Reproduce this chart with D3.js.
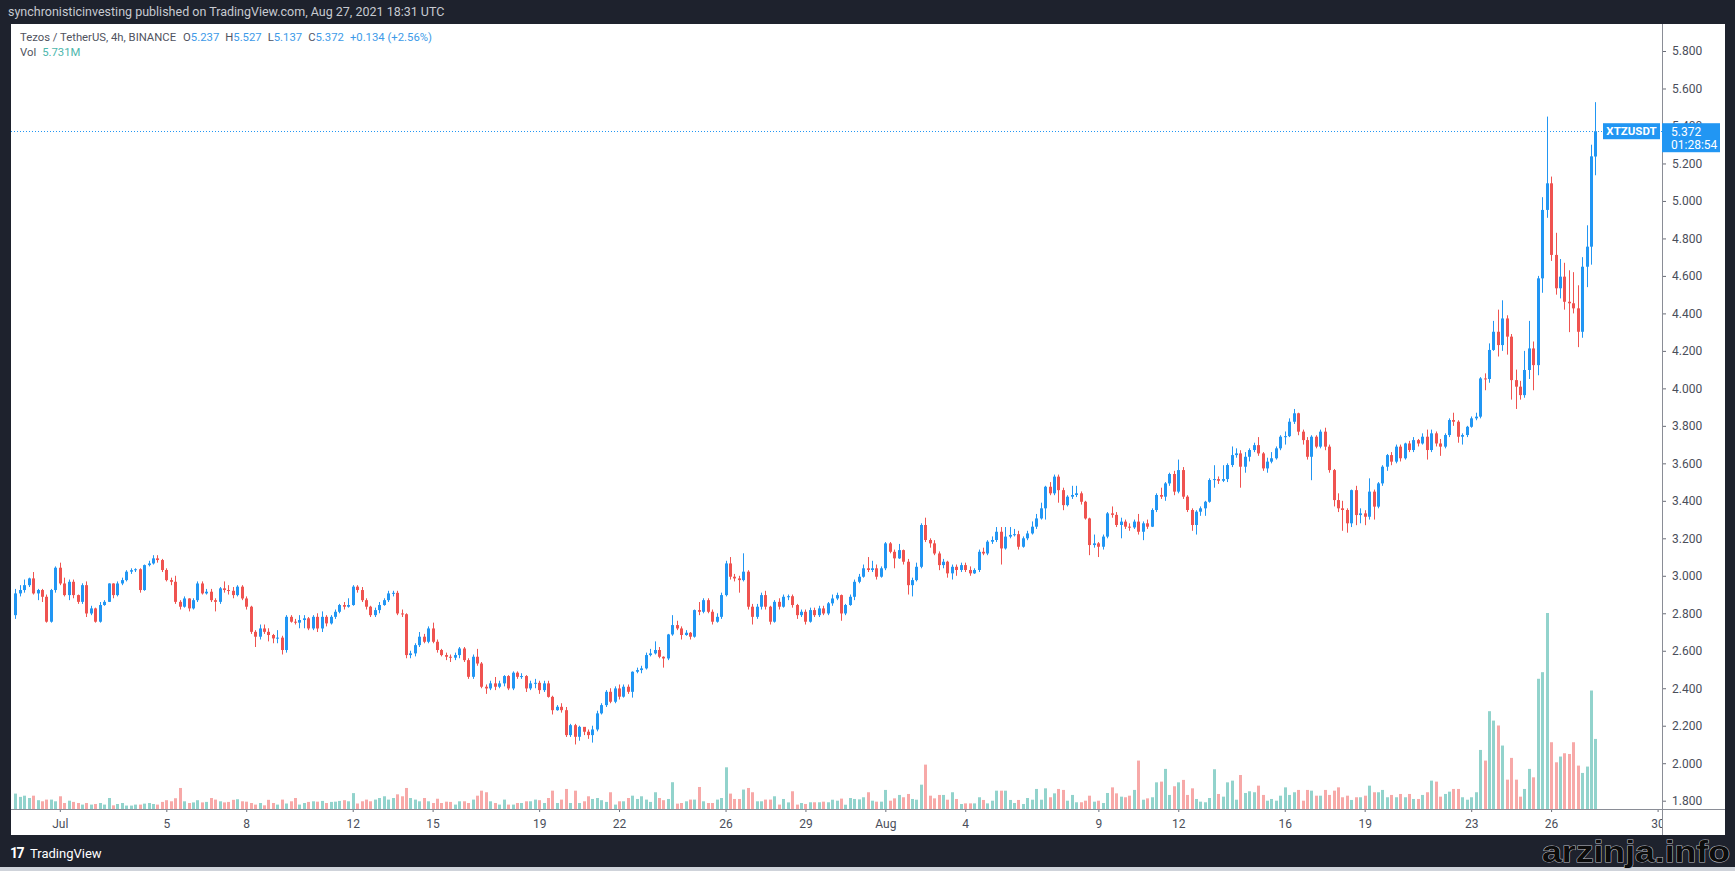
<!DOCTYPE html>
<html>
<head>
<meta charset="utf-8">
<script src="https://cdn.jsdelivr.net/npm/d3@7"></script>
<style>
  html, body { margin: 0; padding: 0; background: #1e222d; overflow: hidden; }
  svg { display: block; font-family: Roboto, "Liberation Sans", sans-serif; }
</style>
</head>
<body>
<script>
// XTZUSDT, Binance, 4h candles, Jun 29 08:00 UTC -> Aug 27 16:00 UTC
var startTime = Date.UTC(2021, 5, 29, 8)
var firstOpen = 2.790

var closes = [
  2.906,2.924,2.950,2.986,2.906,2.924,2.888,2.755,2.924,3.043,
  2.959,2.897,2.968,2.897,2.861,2.950,2.799,2.826,2.755,2.844,
  2.861,2.959,2.897,2.959,2.977,3.022,3.030,3.035,2.924,3.057,
  3.066,3.093,3.084,3.031,2.977,2.968,2.861,2.835,2.879,2.826,
  2.870,2.959,2.906,2.915,2.870,2.861,2.933,2.924,2.920,2.897,
  2.942,2.879,2.835,2.701,2.675,2.719,2.701,2.684,2.666,2.670,
  2.604,2.781,2.755,2.750,2.764,2.773,2.719,2.781,2.719,2.781,
  2.746,2.781,2.808,2.844,2.835,2.844,2.942,2.924,2.870,2.835,
  2.790,2.817,2.844,2.870,2.906,2.909,2.799,2.795,2.577,2.586,
  2.630,2.675,2.648,2.719,2.648,2.604,2.577,2.568,2.563,2.577,
  2.612,2.550,2.461,2.568,2.532,2.408,2.399,2.426,2.408,2.426,
  2.465,2.399,2.483,2.461,2.465,2.399,2.426,2.429,2.390,2.426,
  2.354,2.283,2.301,2.283,2.150,2.203,2.141,2.194,2.168,2.150,
  2.180,2.266,2.310,2.381,2.328,2.399,2.355,2.408,2.381,2.488,
  2.497,2.506,2.577,2.586,2.604,2.568,2.559,2.687,2.737,2.719,
  2.684,2.696,2.675,2.817,2.808,2.870,2.808,2.755,2.781,2.897,
  3.066,2.995,2.986,2.977,3.022,2.835,2.781,2.835,2.897,2.835,
  2.755,2.861,2.835,2.888,2.891,2.844,2.790,2.808,2.755,2.817,
  2.790,2.826,2.799,2.853,2.879,2.897,2.799,2.844,2.888,2.968,
  2.995,3.040,3.031,3.040,2.995,3.040,3.173,3.128,3.093,3.137,
  3.075,2.950,2.977,3.048,3.271,3.191,3.173,3.119,3.057,3.075,
  3.013,3.048,3.031,3.057,3.031,3.013,3.031,3.128,3.119,3.182,
  3.191,3.235,3.146,3.209,3.218,3.222,3.155,3.200,3.226,3.262,
  3.306,3.360,3.475,3.440,3.529,3.457,3.377,3.422,3.431,3.440,
  3.395,3.306,3.164,3.173,3.155,3.209,3.333,3.325,3.271,3.289,
  3.262,3.258,3.289,3.235,3.280,3.262,3.351,3.431,3.422,3.493,
  3.543,3.449,3.564,3.422,3.351,3.271,3.342,3.360,3.395,3.511,
  3.516,3.507,3.516,3.591,3.644,3.653,3.582,3.635,3.671,3.697,
  3.653,3.573,3.609,3.627,3.680,3.742,3.745,3.822,3.867,3.769,
  3.724,3.635,3.742,3.689,3.769,3.689,3.564,3.404,3.360,3.351,
  3.280,3.457,3.324,3.333,3.315,3.449,3.369,3.493,3.582,3.644,
  3.609,3.689,3.627,3.706,3.671,3.724,3.706,3.742,3.671,3.760,
  3.706,3.689,3.751,3.831,3.822,3.742,3.751,3.795,3.840,3.849,
  4.053,4.050,4.205,4.302,4.231,4.373,4.276,4.044,4.009,3.964,
  4.098,4.213,4.124,4.587,4.952,5.094,4.712,4.534,4.596,4.462,
  4.454,4.427,4.302,4.649,4.756,5.238,5.372
]

var highs = [
  2.93,2.95,2.98,2.99,3.02,2.93,2.93,2.90,2.93,3.05,
  3.07,2.99,2.98,2.98,2.90,2.96,2.97,2.84,2.83,2.86,
  2.87,2.96,2.96,2.97,2.99,3.03,3.04,3.04,3.04,3.06,
  3.08,3.11,3.11,3.09,3.04,2.99,3.00,2.87,2.89,2.88,
  2.88,2.97,2.97,2.93,2.93,2.88,2.94,2.97,2.95,2.94,
  2.95,2.95,2.89,2.84,2.71,2.74,2.74,2.72,2.69,2.71,
  2.68,2.79,2.79,2.77,2.79,2.79,2.78,2.79,2.80,2.81,
  2.79,2.79,2.82,2.85,2.86,2.88,2.95,2.95,2.94,2.88,
  2.84,2.83,2.86,2.88,2.92,2.92,2.92,2.82,2.80,2.60,
  2.64,2.70,2.69,2.73,2.75,2.66,2.61,2.59,2.58,2.59,
  2.62,2.62,2.56,2.58,2.61,2.54,2.42,2.44,2.46,2.44,
  2.47,2.47,2.49,2.49,2.48,2.47,2.44,2.45,2.44,2.44,
  2.44,2.36,2.31,2.32,2.30,2.21,2.21,2.20,2.19,2.18,
  2.20,2.28,2.32,2.39,2.40,2.41,2.42,2.42,2.42,2.49,
  2.51,2.52,2.59,2.61,2.65,2.62,2.57,2.69,2.79,2.76,
  2.73,2.71,2.70,2.82,2.86,2.88,2.88,2.82,2.80,2.91,
  3.08,3.10,3.01,3.00,3.12,3.03,2.85,2.85,2.91,2.92,
  2.84,2.87,2.88,2.90,2.90,2.90,2.85,2.82,2.82,2.83,
  2.83,2.84,2.84,2.86,2.90,2.91,2.90,2.85,2.90,2.98,
  3.01,3.06,3.10,3.08,3.06,3.05,3.18,3.18,3.14,3.17,
  3.14,3.09,2.99,3.07,3.28,3.31,3.20,3.19,3.13,3.09,
  3.08,3.06,3.06,3.07,3.07,3.05,3.04,3.14,3.15,3.19,
  3.21,3.26,3.26,3.26,3.26,3.25,3.24,3.21,3.24,3.29,
  3.33,3.39,3.48,3.50,3.54,3.54,3.47,3.43,3.48,3.48,
  3.45,3.40,3.31,3.22,3.18,3.22,3.34,3.37,3.34,3.31,
  3.30,3.28,3.30,3.33,3.29,3.30,3.36,3.44,3.47,3.50,
  3.55,3.56,3.62,3.58,3.43,3.36,3.35,3.37,3.40,3.52,
  3.59,3.53,3.59,3.60,3.69,3.68,3.67,3.66,3.68,3.71,
  3.74,3.66,3.63,3.66,3.69,3.75,3.77,3.84,3.89,3.87,
  3.78,3.74,3.75,3.75,3.78,3.79,3.70,3.57,3.44,3.40,
  3.36,3.46,3.48,3.36,3.35,3.52,3.46,3.50,3.59,3.65,
  3.66,3.70,3.70,3.71,3.72,3.74,3.73,3.76,3.78,3.78,
  3.77,3.73,3.76,3.84,3.87,3.83,3.76,3.80,3.85,3.87,
  4.06,4.08,4.24,4.36,4.42,4.47,4.39,4.29,4.10,4.04,
  4.20,4.36,4.25,4.60,5.02,5.45,5.13,4.83,4.69,4.67,
  4.63,4.62,4.55,4.70,4.87,5.30,5.527
]

var lows = [
  2.77,2.89,2.91,2.94,2.90,2.87,2.86,2.75,2.75,2.91,
  2.95,2.89,2.87,2.88,2.85,2.85,2.78,2.79,2.75,2.75,
  2.84,2.86,2.88,2.89,2.95,2.97,3.01,3.02,2.91,2.92,
  3.05,3.06,3.07,3.02,2.97,2.95,2.85,2.82,2.83,2.81,
  2.82,2.86,2.90,2.90,2.86,2.81,2.85,2.91,2.90,2.88,
  2.89,2.87,2.82,2.69,2.62,2.66,2.69,2.65,2.64,2.64,
  2.58,2.59,2.75,2.74,2.72,2.72,2.71,2.71,2.70,2.70,
  2.73,2.74,2.77,2.80,2.82,2.83,2.84,2.91,2.86,2.82,
  2.78,2.78,2.80,2.84,2.86,2.89,2.79,2.78,2.56,2.56,
  2.57,2.62,2.64,2.64,2.64,2.59,2.57,2.55,2.54,2.55,
  2.56,2.54,2.45,2.45,2.52,2.40,2.37,2.39,2.39,2.40,
  2.41,2.39,2.39,2.45,2.45,2.38,2.39,2.40,2.37,2.38,
  2.35,2.26,2.28,2.27,2.14,2.14,2.10,2.12,2.15,2.13,
  2.11,2.17,2.26,2.30,2.32,2.32,2.34,2.35,2.37,2.35,
  2.48,2.48,2.50,2.57,2.58,2.56,2.51,2.55,2.68,2.71,
  2.66,2.68,2.66,2.67,2.79,2.80,2.80,2.74,2.75,2.77,
  2.89,2.98,2.97,2.91,2.97,2.82,2.74,2.77,2.82,2.82,
  2.74,2.75,2.82,2.83,2.87,2.83,2.77,2.78,2.74,2.75,
  2.78,2.78,2.79,2.79,2.84,2.87,2.76,2.79,2.84,2.87,
  2.96,2.99,3.02,3.02,2.98,2.99,3.03,3.12,3.04,3.09,
  3.06,2.90,2.89,2.97,3.04,3.18,3.15,3.11,3.03,3.04,
  2.99,2.98,3.00,3.02,3.02,3.00,3.01,3.02,3.11,3.11,
  3.17,3.18,3.06,3.14,3.20,3.21,3.14,3.15,3.19,3.22,
  3.25,3.30,3.30,3.43,3.43,3.39,3.35,3.37,3.41,3.42,
  3.38,3.30,3.11,3.15,3.10,3.14,3.20,3.31,3.26,3.20,
  3.25,3.24,3.25,3.22,3.19,3.25,3.26,3.34,3.41,3.40,
  3.48,3.43,3.44,3.41,3.34,3.24,3.22,3.32,3.32,3.39,
  3.47,3.49,3.50,3.50,3.58,3.63,3.47,3.55,3.61,3.66,
  3.64,3.56,3.55,3.60,3.62,3.67,3.70,3.74,3.81,3.75,
  3.70,3.62,3.51,3.68,3.68,3.67,3.55,3.37,3.34,3.24,
  3.23,3.26,3.27,3.28,3.27,3.30,3.30,3.36,3.48,3.56,
  3.59,3.60,3.61,3.62,3.66,3.66,3.69,3.70,3.62,3.66,
  3.69,3.64,3.68,3.74,3.80,3.71,3.70,3.74,3.79,3.83,
  3.84,3.99,4.03,4.20,4.17,4.20,4.18,3.94,3.89,3.94,
  3.95,4.05,3.99,4.07,4.51,4.91,4.68,4.50,4.48,4.42,
  4.30,4.40,4.22,4.27,4.54,4.66,5.137
]

// volume in millions of XTZ
var volumes = [
  1.26,0.99,1.09,0.90,1.09,0.72,0.63,0.77,0.77,0.63,
  1.04,0.49,0.68,0.58,0.49,0.36,0.49,0.36,0.41,0.49,
  0.36,0.90,0.30,0.41,0.49,0.28,0.28,0.36,0.36,0.44,
  0.49,0.41,0.36,0.58,0.72,0.63,0.88,1.72,0.63,0.49,
  0.54,0.72,0.54,0.58,0.90,0.77,0.63,0.54,0.58,0.75,
  0.80,0.63,0.60,0.49,0.36,0.49,0.30,0.75,0.49,0.36,
  0.77,0.45,0.63,0.90,0.36,0.49,0.58,0.63,0.60,0.66,
  0.49,0.58,0.60,0.66,0.72,0.63,1.30,0.45,0.63,0.77,
  0.63,0.77,0.90,1.04,0.77,0.90,1.20,1.04,1.72,0.90,
  0.77,0.63,0.90,0.63,0.49,0.84,0.49,0.60,0.58,0.36,
  0.63,0.63,0.49,0.77,1.09,1.50,1.37,0.63,0.49,0.36,
  0.77,0.36,0.36,0.49,0.49,0.63,0.63,0.77,0.72,0.49,
  0.90,1.50,0.49,0.77,1.64,0.49,1.50,0.49,0.63,1.04,
  0.82,0.90,0.72,0.58,1.37,0.36,0.63,0.63,0.90,1.09,
  0.82,1.04,0.77,0.58,1.37,0.90,0.72,0.82,2.19,0.44,
  0.49,0.63,0.77,0.77,1.80,0.63,0.49,0.49,0.77,0.90,
  3.41,1.26,0.82,0.82,1.59,1.72,1.37,0.63,0.63,0.77,
  0.77,1.04,0.36,0.82,0.54,1.45,0.36,0.49,0.41,0.55,
  0.55,0.55,0.60,0.55,0.76,0.68,0.85,0.35,0.90,0.82,
  0.79,0.96,1.37,0.68,0.60,0.60,1.56,0.68,0.87,1.15,
  0.96,1.23,0.82,0.76,1.99,3.63,1.09,0.87,1.15,1.15,
  0.76,1.37,0.82,0.41,0.46,0.46,0.46,0.96,0.74,0.46,
  0.68,1.50,1.50,1.50,0.74,0.49,0.74,0.41,0.90,0.76,
  1.64,0.76,1.69,0.96,1.28,1.64,1.56,0.68,1.15,0.55,
  0.55,0.68,1.09,0.60,0.68,0.49,1.31,1.77,1.28,1.01,
  0.96,1.09,1.56,3.96,0.76,0.87,0.96,2.18,2.24,3.28,
  1.15,1.86,2.18,2.38,1.15,1.69,0.82,0.60,0.55,0.90,
  3.25,1.23,1.01,2.18,2.32,0.76,2.78,1.31,1.45,1.37,
  1.91,1.15,0.68,0.82,0.68,1.09,1.77,1.15,1.37,1.56,
  0.68,1.56,1.50,1.09,1.09,1.56,1.15,1.50,1.77,0.96,
  1.09,0.74,0.96,0.96,1.09,1.91,1.37,1.37,1.56,0.96,
  1.15,0.96,1.23,0.96,1.23,0.82,0.82,1.15,1.37,2.32,
  2.24,1.01,1.23,1.42,1.64,1.64,0.96,0.76,0.96,1.37,
  4.83,3.96,8.00,7.23,6.83,5.19,2.40,4.18,2.40,1.01,
  1.64,3.28,2.59,10.65,11.19,16.03,5.46,3.82,4.29,4.56,
  4.50,5.46,3.55,2.95,3.47,9.69,5.731
]

// the live candle opened a tick below the previous close
var lastOpen = 5.237

var priceTicks = [1.8, 2.0, 2.2, 2.4, 2.6, 2.8, 3.0, 3.2, 3.4, 3.6, 3.8, 4.0, 4.2, 4.4, 4.6, 4.8, 5.0, 5.2, 5.4, 5.6, 5.8]
var timeTickDays = ["2021-07-01","2021-07-05","2021-07-08","2021-07-12","2021-07-15","2021-07-19","2021-07-22","2021-07-26","2021-07-29",
                    "2021-08-01","2021-08-04","2021-08-09","2021-08-12","2021-08-16","2021-08-19","2021-08-23","2021-08-26","2021-08-30"]
var timeTickLabels = ["Jul","5","8","12","15","19","22","26","29","Aug","4","9","12","16","19","23","26","30"]

var countdown = "01:28:54"

var W = 1735, H = 871
var panel = {left: 11, top: 24, right: 1725, bottom: 835}
var axisX = 1662, axisY = 809

var upColor = "#2196f3", downColor = "#ef5350"
var upVol = "#92d3cc", downVol = "#f7a9a8"

var candles = closes.map(function (c, i) {
  var o = i === 0 ? firstOpen : (i === closes.length - 1 ? lastOpen : closes[i - 1])
  return {
    t: new Date(startTime + i * 4 * 3600 * 1000),
    o: o, h: highs[i], l: lows[i], c: c, v: volumes[i],
    prev: i ? closes[i - 1] : firstOpen
  }
})

var x = d3.scaleUtc()
  .domain([new Date(Date.UTC(2021, 6, 1)), new Date(Date.UTC(2021, 7, 30))])
  .range([59.8, 1657.6])
var y = d3.scaleLinear().domain([1.8, 5.8]).range([800.7, 51])
var yVol = d3.scaleLinear().domain([0, 16.03]).range([axisY, 613])

var svg = d3.select("body").append("svg")
  .attr("width", W)
  .attr("height", H)

svg.append("rect").attr("width", W).attr("height", H).attr("fill", "#1e222d")

svg.append("text")
  .attr("x", 8).attr("y", 16)
  .attr("fill", "#c7cad1")
  .attr("font-size", 12.5)
  .text("synchronisticinvesting published on TradingView.com, Aug 27, 2021 18:31 UTC")

svg.append("rect")
  .attr("x", panel.left).attr("y", panel.top)
  .attr("width", panel.right - panel.left).attr("height", panel.bottom - panel.top)
  .attr("fill", "#ffffff")

svg.append("clipPath").attr("id", "plot")
  .append("rect")
  .attr("x", panel.left).attr("y", panel.top)
  .attr("width", axisX - panel.left).attr("height", axisY - panel.top)

var plot = svg.append("g").attr("clip-path", "url(#plot)")

// volume bars
plot.append("g").selectAll("rect")
  .data(candles)
  .enter().append("rect")
  .attr("x", function (d) { return Math.round(x(d.t)) - 1 })
  .attr("width", 3)
  .attr("y", function (d) { return yVol(d.v) })
  .attr("height", function (d) { return axisY - yVol(d.v) })
  .attr("fill", function (d) { return d.c >= d.o ? upVol : downVol })

// candles
var candle = plot.append("g").selectAll("g")
  .data(candles)
  .enter().append("g")

candle.append("line")
  .attr("x1", function (d) { return Math.round(x(d.t)) + 0.5 })
  .attr("x2", function (d) { return Math.round(x(d.t)) + 0.5 })
  .attr("y1", function (d) { return y(d.h) })
  .attr("y2", function (d) { return y(d.l) })
  .attr("stroke", function (d) { return d.c >= d.o ? upColor : downColor })
  .attr("stroke-width", 1)

candle.append("rect")
  .attr("x", function (d) { return Math.round(x(d.t)) - 1 })
  .attr("width", 3)
  .attr("y", function (d) { return y(Math.max(d.o, d.c)) })
  .attr("height", function (d) { return Math.max(1, Math.abs(y(d.o) - y(d.c))) })
  .attr("fill", function (d) { return d.c >= d.o ? upColor : downColor })

var last = candles[candles.length - 1]

// last price line
plot.append("line")
  .attr("x1", panel.left).attr("x2", axisX)
  .attr("y1", Math.round(y(last.c)) + 0.5).attr("y2", Math.round(y(last.c)) + 0.5)
  .attr("stroke", upColor)
  .attr("stroke-width", 1)
  .attr("stroke-dasharray", "1,2")

// price axis
var priceAxis = svg.append("g")
  .attr("transform", "translate(" + axisX + ",0)")
  .call(d3.axisRight(y).tickValues(priceTicks).tickFormat(d3.format(".3f")).tickSize(4).tickPadding(6))
priceAxis.select(".domain").remove()
priceAxis.selectAll("line").attr("stroke", "#6a6d78")
priceAxis.selectAll("text").attr("fill", "#4a4e5a").attr("font-size", 12).attr("font-family", "Roboto, sans-serif")

svg.append("line")
  .attr("x1", axisX + 0.5).attr("x2", axisX + 0.5)
  .attr("y1", panel.top).attr("y2", panel.bottom)
  .attr("stroke", "#8a8d96")

// time axis
svg.append("clipPath").attr("id", "timeclip")
  .append("rect").attr("x", panel.left).attr("y", axisY).attr("width", axisX - panel.left).attr("height", 30)

var timeAxis = svg.append("g")
  .attr("clip-path", "url(#timeclip)")
  .append("g")
  .attr("transform", "translate(0," + axisY + ")")
  .call(d3.axisBottom(x)
    .tickValues(timeTickDays.map(function (s) { return new Date(s + "T00:00:00Z") }))
    .tickFormat(function (d, i) { return timeTickLabels[i] })
    .tickSize(3).tickPadding(7))
timeAxis.select(".domain").remove()
timeAxis.selectAll("line").attr("stroke", "#6a6d78")
timeAxis.selectAll("text").attr("fill", "#4a4e5a").attr("font-size", 12).attr("font-family", "Roboto, sans-serif")

svg.append("line")
  .attr("x1", panel.left).attr("x2", panel.right)
  .attr("y1", axisY + 0.5).attr("y2", axisY + 0.5)
  .attr("stroke", "#8a8d96")

// last price labels
var ly = y(last.c)
svg.append("rect")
  .attr("x", 1603).attr("y", ly - 8).attr("width", 57).attr("height", 16)
  .attr("fill", upColor)
svg.append("text")
  .attr("x", 1631.5).attr("y", ly + 4)
  .attr("text-anchor", "middle")
  .attr("fill", "#fff").attr("font-size", 11.5).attr("font-weight", "bold")
  .text("XTZUSDT")
svg.append("rect")
  .attr("x", axisX).attr("y", ly - 8).attr("width", 58).attr("height", 29)
  .attr("fill", upColor)
svg.append("text")
  .attr("x", 1671).attr("y", ly + 4.5)
  .attr("fill", "#fff").attr("font-size", 12)
  .text(d3.format(".3f")(last.c))
svg.append("text")
  .attr("x", 1671).attr("y", ly + 17.5)
  .attr("fill", "#fff").attr("font-size", 12)
  .text(countdown)

// legend
var fmt = d3.format(".3f")
var legend = svg.append("text")
  .attr("x", 20).attr("y", 41)
  .attr("font-size", 11.3)
  .attr("fill", "#50535e")
legend.append("tspan").text("Tezos / TetherUS, 4h, BINANCE")
var ohlc = [["O", last.o], ["H", last.h], ["L", last.l], ["C", last.c]]
ohlc.forEach(function (p, i) {
  legend.append("tspan").attr("dx", i ? 6 : 7).attr("fill", "#50535e").text(p[0])
  legend.append("tspan").attr("fill", "#3d9ae8").text(fmt(p[1]))
})
var change = last.c - last.prev
legend.append("tspan").attr("dx", 6).attr("fill", "#3d9ae8")
  .text("+" + fmt(change) + " (+" + d3.format(".2f")(change / last.prev * 100) + "%)")

var volLegend = svg.append("text")
  .attr("x", 20).attr("y", 56)
  .attr("font-size", 11.3)
  .attr("fill", "#50535e")
volLegend.append("tspan").text("Vol")
volLegend.append("tspan").attr("dx", 6).attr("fill", "#4db6ac").text(d3.format(".3f")(last.v) + "M")

// footer
var logo = svg.append("g").attr("transform", "translate(10,858)")
logo.append("text")
  .attr("fill", "#ffffff").attr("font-size", 14).attr("font-weight", "bold")
  .attr("letter-spacing", -1.5)
  .text("17")
logo.append("text")
  .attr("x", 20)
  .attr("fill", "#ffffff").attr("font-size", 13)
  .text("TradingView")

svg.append("rect")
  .attr("x", 0).attr("y", 867).attr("width", W).attr("height", 4)
  .attr("fill", "#cfd3da")

svg.append("text")
  .attr("x", 1542).attr("y", 862)
  .attr("font-family", "'Liberation Sans', Arial, sans-serif")
  .attr("font-size", 30).attr("font-weight", "bold")
  .attr("textLength", 188).attr("lengthAdjust", "spacingAndGlyphs")
  .attr("fill", "#0c0c0c")
  .attr("stroke", "#b9bbc0").attr("stroke-width", 1)
  .attr("paint-order", "stroke")
  .text("arzinja.info")
</script>
</body>
</html>
